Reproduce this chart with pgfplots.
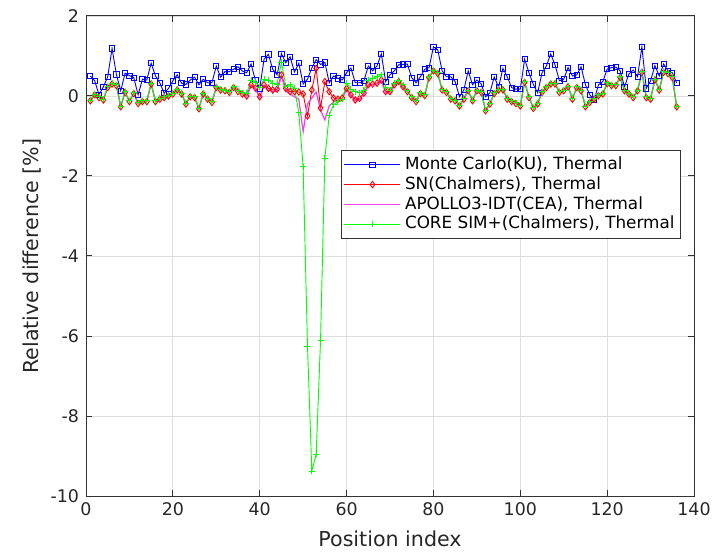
\documentclass[border=0pt]{standalone}
\usepackage{fontspec}
\setmainfont{DejaVu Sans}
\usepackage{pgfplots}
\usepackage{pgfplotstable}
\pgfplotsset{compat=1.18}
\definecolor{apollo}{rgb}{0.95,0.25,0.95}
\pgfplotstableread{
x mc sn ap cs
1 0.50 -0.12 -0.11 -0.10
2 0.38 0.03 0.04 0.05
3 0.03 -0.04 -0.03 -0.02
4 0.23 -0.10 -0.09 -0.08
5 0.48 0.21 0.22 0.23
6 1.19 0.30 0.31 0.32
7 0.54 0.26 0.27 0.28
8 0.13 -0.27 -0.26 -0.25
9 0.57 0.09 0.10 0.11
10 0.51 -0.14 -0.13 -0.12
11 0.46 0.06 0.07 0.08
12 0.03 -0.19 -0.18 -0.17
13 0.42 -0.14 -0.13 -0.12
14 0.40 -0.14 -0.13 -0.12
15 0.82 0.30 0.31 0.32
16 0.50 -0.14 -0.13 -0.12
17 0.33 -0.08 -0.07 -0.06
18 0.07 -0.04 -0.03 -0.02
19 0.19 0.00 0.01 0.02
20 0.38 0.05 0.06 0.07
21 0.53 0.15 0.16 0.17
22 0.32 0.05 0.06 0.07
23 0.29 -0.20 -0.19 -0.18
24 0.40 -0.02 -0.01 0.00
25 0.47 -0.04 -0.03 -0.02
26 0.28 -0.32 -0.31 -0.30
27 0.42 0.05 0.06 0.07
28 0.33 -0.08 -0.07 -0.06
29 0.33 -0.16 -0.15 -0.14
30 0.75 0.21 0.22 0.23
31 0.47 0.15 0.16 0.17
32 0.61 0.13 0.14 0.15
33 0.61 0.09 0.10 0.11
34 0.67 0.21 0.22 0.23
35 0.73 0.11 0.12 0.13
36 0.62 0.05 0.06 0.08
37 0.58 0.00 -0.02 0.07
38 0.80 0.28 0.25 0.40
39 0.40 0.20 0.18 0.35
40 0.19 -0.02 -0.05 0.22
41 0.92 0.28 0.25 0.42
42 1.04 0.19 0.15 0.40
43 0.67 0.15 0.12 0.32
44 0.53 0.17 0.12 0.30
45 1.06 0.53 0.50 0.84
46 0.83 0.19 0.12 0.25
47 0.98 0.11 0.05 0.28
48 0.60 0.11 -0.02 0.19
49 0.82 0.10 -0.08 -0.42
50 0.30 0.05 -0.89 -1.77
51 0.42 -0.50 -0.20 -6.25
52 0.70 0.15 -0.05 -9.38
53 0.91 0.69 0.10 -8.96
54 0.79 -0.30 -0.35 -6.12
55 0.84 0.36 -0.60 -1.56
56 0.33 0.11 -0.25 -0.48
57 0.50 -0.05 -0.15 -0.22
58 0.44 -0.08 -0.10 -0.14
59 0.40 -0.05 -0.06 -0.08
60 0.58 0.19 0.15 0.32
61 0.70 0.03 0.00 0.17
62 0.33 -0.10 -0.12 0.11
63 0.33 -0.06 -0.08 0.08
64 0.38 0.07 0.05 0.15
65 0.75 0.28 0.25 0.40
66 0.63 0.30 0.28 0.44
67 0.75 0.32 0.30 0.48
68 1.05 0.40 0.38 0.53
69 0.36 0.11 0.08 0.22
70 0.53 0.11 0.08 0.15
71 0.63 0.28 0.25 0.32
72 0.78 0.36 0.34 0.40
73 0.79 0.23 0.20 0.28
74 0.80 0.11 0.12 0.13
75 0.46 -0.04 -0.03 -0.02
76 0.33 -0.14 -0.13 -0.12
77 0.48 0.06 0.07 0.08
78 0.67 0.01 0.02 0.03
79 0.71 0.46 0.47 0.48
80 1.23 0.63 0.64 0.65
81 1.15 0.56 0.57 0.58
82 0.63 0.15 0.16 0.17
83 0.48 0.09 0.10 0.11
84 0.48 -0.08 -0.07 -0.06
85 0.36 -0.12 -0.11 -0.10
86 -0.02 -0.25 -0.24 -0.23
87 0.15 -0.08 -0.07 -0.06
88 0.63 0.13 0.14 0.15
89 0.28 -0.12 -0.11 -0.10
90 0.40 0.13 0.14 0.15
91 0.30 0.09 0.10 0.11
92 -0.02 -0.37 -0.36 -0.35
93 0.08 -0.20 -0.19 -0.18
94 0.48 0.06 0.07 0.08
95 0.22 0.15 0.16 0.17
96 0.69 0.15 0.16 0.17
97 0.48 -0.08 -0.07 -0.06
98 0.21 -0.14 -0.13 -0.12
99 0.17 -0.19 -0.18 -0.17
100 0.17 -0.25 -0.24 -0.23
101 0.92 0.34 0.35 0.36
102 0.58 -0.04 -0.03 -0.02
103 0.29 -0.31 -0.30 -0.29
104 0.08 -0.20 -0.19 -0.18
105 0.58 0.09 0.10 0.11
106 0.75 0.21 0.22 0.23
107 1.05 0.30 0.31 0.32
108 0.78 0.30 0.31 0.32
109 0.38 0.09 0.10 0.11
110 0.42 0.13 0.14 0.15
111 0.71 0.23 0.24 0.25
112 0.50 -0.08 -0.07 -0.06
113 0.53 0.21 0.22 0.23
114 0.73 0.13 0.14 0.15
115 0.28 -0.27 -0.26 -0.25
116 0.03 -0.16 -0.15 -0.14
117 -0.10 -0.08 -0.07 -0.06
118 0.28 0.01 0.02 0.03
119 0.36 0.05 0.06 0.07
120 0.67 0.31 0.32 0.33
121 0.71 0.26 0.27 0.28
122 0.72 0.26 0.27 0.28
123 0.63 0.46 0.47 0.48
124 0.23 0.13 0.14 0.15
125 0.55 0.05 0.06 0.07
126 0.65 -0.04 -0.03 -0.02
127 0.48 0.13 0.14 0.15
128 1.23 0.59 0.60 0.61
129 0.19 -0.04 -0.03 -0.02
130 0.38 -0.08 -0.07 -0.06
131 0.76 0.40 0.41 0.42
132 0.50 0.15 0.16 0.17
133 0.80 0.59 0.60 0.61
134 0.63 0.56 0.57 0.58
135 0.58 0.46 0.47 0.48
136 0.33 -0.27 -0.26 -0.25
}\data
\begin{document}
\begin{tikzpicture}
\begin{axis}[
  at={(0,0)}, anchor=south west,
  scale only axis, width=304pt, height=240pt,
  xmin=0, xmax=140, ymin=-10, ymax=2,
  xtick={0,20,...,140}, xticklabels={0,20,40,60,80,100,120,140},
  ytick={-10,-8,...,2}, yticklabels={-10,-8,-6,-4,-2,0,2},
  tick align=inside, major tick length=3pt,
  grid=major, grid style={black!13, line width=0.4pt},
  axis line style={black!80, line width=0.5pt},
  tick style={black!80, line width=0.5pt},
  ticklabel style={font=\fontsize{8.7}{10}\selectfont, text=black!85},
  xlabel={Position index}, ylabel={Relative difference [\%]},
  label style={font=\fontsize{10.3}{12}\selectfont, text=black!85},
  xlabel style={at={(axis description cs:0.5,0)}, anchor=base, yshift=-25pt},
  ylabel style={at={(axis description cs:0,0.5)}, anchor=center, yshift=27.2pt},
  legend style={at={(0.9786,0.7208)}, anchor=north east, draw=black!80, line width=0.5pt,
    font=\fontsize{8.4}{10}\selectfont, text=black, row sep=-2pt, inner xsep=1pt, inner ysep=1.2pt},
  legend cell align=left,
  legend image code/.code={\draw[mark repeat=2,mark phase=2,#1] plot coordinates {(0pt,0pt) (14pt,0pt) (28pt,0pt)};},
]
\addplot[color=blue, line width=0.45pt, mark=square, mark size=1.3pt, mark options={solid, line width=0.45pt}] table[x=x,y=mc]{\data};
\addlegendentry{Monte Carlo(KU), Thermal}
\addplot[color=red, line width=0.45pt, mark=diamond, mark size=1.6pt, mark options={solid, line width=0.45pt}] table[x=x,y=sn]{\data};
\addlegendentry{SN(Chalmers), Thermal}
\addplot[color=apollo, line width=0.6pt, no marks] table[x=x,y=ap]{\data};
\addlegendentry{APOLLO3-IDT(CEA), Thermal}
\addplot[color=green, line width=0.45pt, mark=+, mark size=1.5pt, mark options={solid, line width=0.45pt}] table[x=x,y=cs]{\data};
\addlegendentry{CORE SIM+(Chalmers), Thermal}
\end{axis}
\pgfresetboundingbox
\path[use as bounding box] (-43pt,-27.5pt) rectangle (314.5pt,248pt);
\end{tikzpicture}
\end{document}
